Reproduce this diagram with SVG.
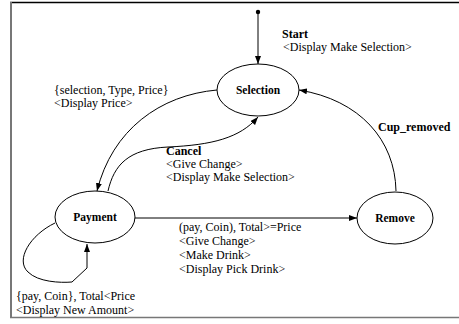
<svg xmlns="http://www.w3.org/2000/svg" width="459" height="324" viewBox="0 0 459 324">
  <style>
    .state { fill: #fff; stroke: #000; stroke-width: 1; }
    .edge { fill: none; stroke: #000; stroke-width: 1; }
    text { font-family: 'Liberation Serif', 'DejaVu Serif', serif; fill: #000; }
    .name { font-size: 11.5px; font-weight: bold; text-anchor: middle; }
    .lbl { font-size: 12px; }
    .bold { font-weight: bold; }
  </style>
  <defs>
    <marker id="arrow" viewBox="0 0 8 6" refX="8" refY="3" markerWidth="8" markerHeight="6" markerUnits="userSpaceOnUse" orient="auto">
      <path d="M0,0 L8,3 L0,6 Z" fill="#000"/>
    </marker>
  </defs>

  <rect width="459" height="324" fill="#fff"/>
  <!-- frame -->
  <line x1="10" y1="2.5" x2="459" y2="2.5" stroke="#000" stroke-width="1.5"/>
  <line x1="11" y1="2" x2="11" y2="318" stroke="#777" stroke-width="2"/>
  <line x1="10" y1="317.5" x2="459" y2="317.5" stroke="#777" stroke-width="1.5"/>

  <g id="connectors">
    <circle cx="258" cy="12" r="2.2" fill="#000"/>
    <path class="edge" d="M258,12 L258,64" marker-end="url(#arrow)"/>
    <path class="edge" d="M217,90 C160,95 112,130 97,191" marker-end="url(#arrow)"/>
    <path class="edge" d="M108,191 C114,165 128,149 168,147 C212,145 240,138 258,117" marker-end="url(#arrow)"/>
    <path class="edge" d="M396,191 C395,140 360,100 299,90" marker-end="url(#arrow)"/>
    <path class="edge" d="M135,218 L357,218" marker-end="url(#arrow)"/>
    <path class="edge" d="M55,223 C30,235 15,260 28,272 C38,282 60,283 72,282 L87,268 L87,244" marker-end="url(#arrow)"/>
  </g>

  <g id="selection">
    <ellipse class="state" cx="258" cy="90" rx="41" ry="26"/>
    <text class="name" x="258" y="94" font-family="Liberation Serif, serif">Selection</text>
  </g>
  <g id="payment">
    <ellipse class="state" cx="95" cy="217" rx="40" ry="26"/>
    <text class="name" x="95" y="221" font-family="Liberation Serif, serif">Payment</text>
  </g>
  <g id="remove">
    <ellipse class="state" cx="395" cy="218" rx="38" ry="26"/>
    <text class="name" x="395" y="222" font-family="Liberation Serif, serif">Remove</text>
  </g>

  <g id="labels" font-family="Liberation Serif, serif">
    <text class="lbl bold" x="282" y="38">Start</text>
    <text class="lbl" x="283" y="51">&lt;Display Make Selection&gt;</text>

    <text class="lbl" x="54" y="94">{selection, Type, Price}</text>
    <text class="lbl" x="54" y="107">&lt;Display Price&gt;</text>

    <text class="lbl bold" x="378" y="131">Cup_removed</text>

    <text class="lbl bold" x="166" y="155">Cancel</text>
    <text class="lbl" x="166" y="168">&lt;Give Change&gt;</text>
    <text class="lbl" x="166" y="181">&lt;Display Make Selection&gt;</text>

    <text class="lbl" x="179" y="231">(pay, Coin), Total&gt;=Price</text>
    <text class="lbl" x="179" y="245">&lt;Give Change&gt;</text>
    <text class="lbl" x="179" y="259">&lt;Make Drink&gt;</text>
    <text class="lbl" x="179" y="273">&lt;Display Pick Drink&gt;</text>

    <text class="lbl" x="16" y="300">{pay, Coin}, Total&lt;Price</text>
    <text class="lbl" x="16" y="314">&lt;Display New Amount&gt;</text>
  </g>
</svg>
